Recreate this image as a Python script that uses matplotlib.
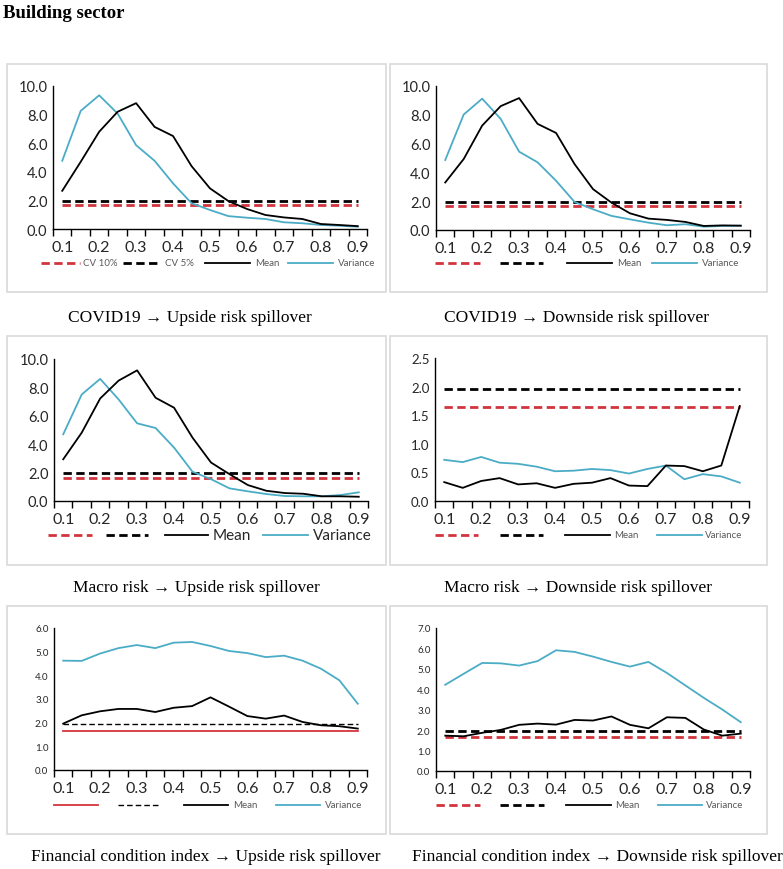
import numpy as np
import matplotlib
matplotlib.use("Agg")
import matplotlib.pyplot as plt
from matplotlib.lines import Line2D
from matplotlib.patches import Rectangle

plt.rcParams['lines.scale_dashes'] = False

# ---------------- data ----------------
quantiles = ["0.1", "0.15", "0.2", "0.25", "0.3", "0.35", "0.4", "0.45", "0.5",
             "0.55", "0.6", "0.65", "0.7", "0.75", "0.8", "0.85", "0.9"]
CV10 = 1.645
CV5 = 1.96

covid_up_mean = [2.67, 4.7, 6.8, 8.2, 8.8, 7.14, 6.5, 4.4, 2.84, 1.95, 1.4, 0.98, 0.81, 0.7, 0.35, 0.28, 0.2]
covid_up_var = [4.77, 8.26, 9.35, 8.07, 5.86, 4.77, 3.19, 1.8, 1.33, 0.9, 0.79, 0.7, 0.47, 0.4, 0.28, 0.23, 0.16]

covid_down_mean = [3.3, 4.93, 7.25, 8.6, 9.16, 7.37, 6.74, 4.58, 2.84, 1.9, 1.16, 0.79, 0.7, 0.56, 0.28, 0.32, 0.3]
covid_down_var = [4.86, 8.02, 9.12, 7.72, 5.44, 4.7, 3.42, 1.95, 1.44, 0.98, 0.74, 0.51, 0.33, 0.4, 0.23, 0.28, 0.3]

macro_up_mean = [2.94, 4.81, 7.22, 8.48, 9.2, 7.27, 6.57, 4.46, 2.71, 1.89, 1.12, 0.72, 0.56, 0.51, 0.33, 0.33, 0.3]
macro_up_var = [4.7, 7.5, 8.6, 7.15, 5.47, 5.14, 3.76, 2.06, 1.54, 0.89, 0.68, 0.49, 0.35, 0.33, 0.33, 0.42, 0.61]

macro_down_mean = [0.33, 0.23, 0.35, 0.40, 0.29, 0.31, 0.23, 0.30, 0.32, 0.40, 0.27, 0.26, 0.62, 0.61, 0.52, 0.62, 1.66]
macro_down_var = [0.72, 0.68, 0.77, 0.67, 0.65, 0.60, 0.52, 0.53, 0.56, 0.54, 0.48, 0.56, 0.62, 0.38, 0.47, 0.43, 0.32]

fci_up_mean = [1.96, 2.31, 2.48, 2.58, 2.58, 2.45, 2.63, 2.70, 3.07, 2.68, 2.28, 2.17, 2.30, 2.03, 1.89, 1.85, 1.75]
fci_up_var = [4.62, 4.61, 4.92, 5.15, 5.28, 5.15, 5.38, 5.41, 5.24, 5.03, 4.94, 4.77, 4.83, 4.62, 4.28, 3.79, 2.80]

fci_down_mean = [1.73, 1.70, 1.87, 2.01, 2.26, 2.32, 2.27, 2.50, 2.47, 2.67, 2.26, 2.09, 2.63, 2.60, 2.03, 1.73, 1.83]
fci_down_var = [4.22, 4.76, 5.29, 5.27, 5.16, 5.38, 5.91, 5.83, 5.60, 5.34, 5.11, 5.34, 4.80, 4.19, 3.58, 3.01, 2.39]

captions = ["COVID19 \u2192 Upside risk spillover", "COVID19 \u2192 Downside risk spillover",
            "Macro risk \u2192 Upside risk spillover", "Macro risk \u2192 Downside risk spillover",
            "Financial condition index \u2192 Upside risk spillover",
            "Financial condition index \u2192 Downside risk spillover"]

# ---------------- styling ----------------
W, H = 783, 870
fig = plt.figure(figsize=(W / 100, H / 100), dpi=100)
SANS = ['Lato', 'DejaVu Sans']
SERIF = ['Liberation Serif', 'DejaVu Serif']
RED = '#D2343D'
CYAN = '#4BACC6'
BLACK = '#000000'
GRAY_TXT = '#595959'


def fig_rect(x0, y0, x1, y1):
    return [x0 / W, 1 - y1 / H, (x1 - x0) / W, (y1 - y0) / H]


def fx(x):
    return x / W


def fy(y):
    return 1 - y / H


fig.text(fx(3), fy(14), "Building sector", family=SERIF, weight='bold',
         fontsize=13.5, ha='left', va='center')

boxes = [(7, 65, 386, 293), (390, 65, 767, 293),
         (7, 337, 386, 566), (390, 337, 767, 566),
         (7, 607, 386, 835), (390, 607, 767, 835)]
cap_y = [318, 318, 588, 588, 857, 857]
cap_x = [190, 576, 196, 578, 206, 597]

for (x0, y0, x1, y1) in boxes:
    fig.add_artist(Rectangle((fx(x0), fy(y1)), (x1 - x0) / W, (y1 - y0) / H,
                             transform=fig.transFigure, fill=False,
                             edgecolor='#D9D9D9', lw=1.2))

for cx, cy, cap in zip(cap_x, cap_y, captions):
    fig.text(fx(cx), fy(cy), cap, family=SERIF, fontsize=12.5,
             ha='center', va='center')

axes_px = [(53, 87, 367, 230), (436, 87, 750, 231),
           (54, 360, 368, 502), (435, 359, 749, 502),
           (54, 629, 367, 771), (436, 629, 750, 772)]

series = [(covid_up_mean, covid_up_var), (covid_down_mean, covid_down_var),
          (macro_up_mean, macro_up_var), (macro_down_mean, macro_down_var),
          (fci_up_mean, fci_up_var), (fci_down_mean, fci_down_var)]

ylims = [(10, 2), (10, 2), (10, 2), (2.5, 0.5), (6, 1), (7, 1)]
ytick_fs = [10.5, 10.5, 10.5, 9.5, 7.0, 7.0]
xtick_fs = [11.5, 11.5, 11.5, 11.5, 11.5, 11.5]

# CV line style per panel
thick_dash = dict(lw=2.0, dashes=(6, 3.2))
styles_red = [thick_dash] * 4 + [dict(lw=1.3, dashes=())] + [thick_dash]
styles_blk = [thick_dash] * 4 + [dict(lw=1.0, dashes=(4, 2.2))] + [thick_dash]

x = np.arange(len(quantiles))

for i, (rect, (mean, var)) in enumerate(zip(axes_px, series)):
    ax = fig.add_axes(fig_rect(*rect))
    ymax, ystep = ylims[i]
    n = len(quantiles)
    lr = ax.plot(x, np.full(n, CV10), color=RED, lw=styles_red[i]['lw'])[0]
    if styles_red[i]['dashes']:
        lr.set_dashes(styles_red[i]['dashes'])
    lb = ax.plot(x, np.full(n, CV5), color=BLACK, lw=styles_blk[i]['lw'])[0]
    lb.set_dashes(styles_blk[i]['dashes'])
    ax.plot(x, mean, color=BLACK, lw=1.3, zorder=4)
    ax.plot(x, var, color=CYAN, lw=1.3, zorder=3)

    ax.set_xlim(-0.5, n - 0.5)
    ax.set_ylim(0, ymax)
    ax.spines['top'].set_visible(False)
    ax.spines['right'].set_visible(False)
    ax.spines['left'].set_linewidth(1.0)
    ax.spines['bottom'].set_linewidth(1.0)
    ax.patch.set_alpha(0)

    yt = np.arange(0, ymax + 1e-9, ystep)
    ax.set_yticks(yt)
    ax.set_yticklabels([f"{v:.1f}" for v in yt],
                       family=SANS, fontsize=ytick_fs[i], color='#262626')
    ax.tick_params(axis='y', length=0, pad=4)

    ax.set_xticks(np.arange(-0.5, n, 1.0))
    ax.set_xticklabels([])
    ax.tick_params(axis='x', which='major', length=5, width=1.0, direction='out')
    ax.set_xticks(x[::2], minor=True)
    ax.set_xticklabels(quantiles[::2], minor=True, family=SANS,
                       fontsize=xtick_fs[i], color='#262626')
    ax.tick_params(axis='x', which='minor', length=0, pad=8)

# ---------------- legends (drawn manually) ----------------
legend_y = [264, 264, 536, 536, 806, 806]
legend_specs = [
    [(41, 80, 'red', 'CV 10%', 83), (123, 161, 'blk', 'CV 5%', 165),
     (205, 250, 'mean', 'Mean', 255), (288, 333, 'var', 'Variance', 338)],
    [(435, 480, 'red', '', 0), (500, 543, 'blk', '', 0),
     (567, 612, 'mean', 'Mean', 617), (652, 697, 'var', 'Variance', 702)],
    [(48, 92, 'red', '', 0), (106, 148, 'blk', '', 0),
     (165, 208, 'mean', 'Mean', 213), (263, 308, 'var', 'Variance', 313)],
    [(435, 478, 'red', '', 0), (500, 543, 'blk', '', 0),
     (565, 610, 'mean', 'Mean', 614), (657, 702, 'var', 'Variance', 705)],
    [(54, 98, 'red', '', 0), (118, 160, 'blk', '', 0),
     (184, 228, 'mean', 'Mean', 233), (276, 320, 'var', 'Variance', 325)],
    [(436, 480, 'red', '', 0), (500, 544, 'blk', '', 0),
     (566, 611, 'mean', 'Mean', 615), (658, 702, 'var', 'Variance', 706)],
]
legend_fs = [7, 7, 11, 7, 7, 7]
legend_col = [GRAY_TXT, GRAY_TXT, '#262626', GRAY_TXT, GRAY_TXT, GRAY_TXT]

for i, spec in enumerate(legend_specs):
    ly = legend_y[i]
    for (x0, x1, kind, label, tx) in spec:
        xs, ys = [fx(x0), fx(x1)], [fy(ly), fy(ly)]
        if kind == 'red':
            st = styles_red[i]
            ln = Line2D(xs, ys, color=RED, lw=st['lw'], transform=fig.transFigure)
            if st['dashes']:
                ln.set_dashes(st['dashes'])
        elif kind == 'blk':
            st = styles_blk[i]
            ln = Line2D(xs, ys, color=BLACK, lw=st['lw'], transform=fig.transFigure)
            ln.set_dashes(st['dashes'])
        elif kind == 'mean':
            ln = Line2D(xs, ys, color=BLACK, lw=1.3, transform=fig.transFigure)
        else:
            ln = Line2D(xs, ys, color=CYAN, lw=1.3, transform=fig.transFigure)
        fig.add_artist(ln)
        if label:
            fig.text(fx(tx), fy(ly), label, family=SANS, fontsize=legend_fs[i],
                     color=legend_col[i], ha='left', va='center')

fig.savefig("out.png", dpi=100)
